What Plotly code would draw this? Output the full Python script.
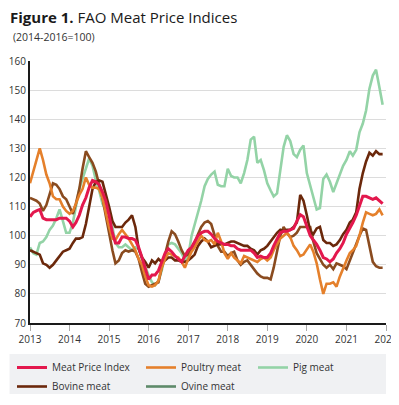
import pandas as pd
import plotly.graph_objects as go

dates = pd.date_range("2013-01-01", periods=108, freq="MS").strftime("%Y-%m-%d").tolist()

meat_index = [106.5, 108, 108.5, 109, 106, 105.5, 105.5, 105.5, 105.5, 106, 106, 106,
              105, 103, 104.5, 107, 110.5, 113, 116.5, 119, 118.5, 117.5, 115, 112,
              107, 101, 97.5, 97.5, 99.5, 99.5, 99, 99, 98.5, 96, 92.5, 89,
              85, 86.5, 86.5, 88, 91, 94, 95.5, 94.5, 93, 92, 91, 93,
              95, 96, 98, 100, 101, 101.5, 101.5, 100.5, 99, 98, 97.5, 97,
              97, 96.5, 96.5, 95.5, 95, 95, 95, 95, 94, 92.5, 93, 92.5,
              92.5, 94, 96.5, 99, 101, 101.5, 101.5, 102, 102.5, 105, 107.2, 106.5,
              103, 100, 98.5, 97, 95, 92.5, 92, 91, 92, 94, 95.5, 97.5,
              100.5, 102.5, 104.5, 107, 110, 113.5, 113.5, 113, 112.5, 113, 112, 111]

poultry = [118, 122, 126, 130, 126, 121, 118, 113.5, 112.5, 112.5, 110, 108.5,
           107.5, 108.5, 111, 114, 116, 120, 117.5, 116.5, 116.5, 116, 113, 108,
           103, 99, 98.5, 100.5, 102, 100.5, 99, 97, 95, 92, 90, 86,
           83, 82.5, 83, 84.5, 89, 92, 94, 93.5, 93, 92.5, 91, 89,
           92, 94.5, 96, 98, 100, 98.5, 98, 98.5, 97, 101, 98, 94,
           92, 94, 92.5, 91.5, 90.5, 93, 92.5, 92, 91.5, 91, 92, 92.5,
           91.5, 92.5, 95, 97, 99, 100, 101, 99.5, 96.5, 95, 93, 93.5,
           95.5, 97, 94.5, 90.5, 85, 80, 83.5, 83.5, 84, 82.5, 86, 89,
           91.5, 94, 95, 96.5, 100, 104.5, 108, 107.5, 107, 107.5, 109, 107]

pig = [96, 94, 93.5, 97.5, 98, 99.5, 102, 103.5, 106, 109, 105, 101,
       101, 104.5, 110, 116, 119.5, 123, 126.5, 124, 119, 115.5, 111, 108.5,
       107.5, 103, 97.5, 96, 96, 97, 96, 95, 96, 95.5, 92, 89,
       86.5, 84, 83, 84.5, 88, 93, 97, 97.5, 97, 95.5, 94, 91.5,
       93, 100, 103.5, 108, 112, 117, 119.5, 121, 122, 117.5, 117, 117,
       123, 120.5, 120, 120, 118, 121.5, 126, 133, 134, 125, 126, 122.5,
       118, 115.5, 113.5, 114.5, 122.5, 130.5, 134.5, 132.5, 128, 127, 129.5, 131,
       121.5, 117, 112.5, 109, 109.5, 119.5, 121, 118.5, 115, 118, 121, 124,
       126, 129, 127.5, 129.5, 135.5, 138.5, 143, 150.5, 155, 157, 151, 145]

bovine = [95, 94.5, 94, 93.5, 90.5, 90, 89, 90, 91.5, 93, 94.5, 95,
          95.5, 97.5, 99, 99, 99.5, 104, 110, 116, 118.5, 119, 118.5, 114.5,
          110, 105, 103, 103, 103, 104.5, 105.5, 107, 103, 95.5, 92.5, 91,
          89, 91.5, 90.5, 92, 91, 91.5, 92.5, 92.5, 91.5, 91.5, 91, 91,
          91.5, 92.5, 93.5, 96.5, 98, 99, 98, 96, 96.5, 97, 97, 97,
          97.5, 98, 98, 97.5, 97, 96.5, 96.5, 95.5, 95, 93.5, 95, 95.5,
          96.5, 98, 99.5, 101, 102, 101.5, 102, 102, 103, 104.5, 114, 112,
          107, 101.5, 100.5, 102.5, 103, 98.5, 97.5, 97.5, 96.5, 97, 98.5, 100.5,
          102, 104.5, 105.5, 108, 116, 121.5, 125.5, 128.5, 127.5, 129, 128, 128]

ovine = [113, 112.5, 112, 111, 108.5, 110.5, 114, 118, 117.5, 116, 113.5, 112.5,
         110, 107.5, 111, 116, 123, 129, 127, 125, 122, 118, 113, 107,
         100.5, 95, 90.5, 91.5, 94, 95, 94.5, 95, 94.5, 92, 87.5, 83.5,
         82.5, 83, 83.5, 84, 89, 94, 98, 101.5, 100.5, 98, 95, 93,
         93.5, 95.5, 97.5, 100.5, 103, 104.5, 105, 104, 100, 96.5, 94.5, 94.5,
         93, 94, 94.5, 91.5, 90, 91, 91.5, 90, 88.5, 87, 86, 85.5,
         85.5, 85, 89, 95, 100, 103, 101, 99.5, 100, 101, 103, 103,
         103, 103, 98, 94, 92, 90, 89, 90, 88.5, 90.5, 90, 89.5,
         88.5, 91.5, 94.5, 97, 100, 102.5, 102, 96.5, 91, 89.5, 89, 89]

year_ticks = ["2013", "2014", "2015", "2016", "2017", "2018", "2019", "2020", "2021", "2022"]
y_ticks = [70, 80, 90, 100, 110, 120, 130, 140, 150, 160]

C_MPI = "#E3184D"
C_POULTRY = "#E5802B"
C_PIG = "#93D3A6"
C_BOVINE = "#6B280B"
C_OVINE_LINE = "#8A4B1F"
C_OVINE_LEG = "#5D8A69"

FONT = "Open Sans"
fig = go.Figure()

fig.add_trace(go.Scatter(x=dates, y=pig, name="Pig meat", mode="lines",
                         line=dict(color=C_PIG, width=2.6), legend="legend3"))
fig.add_trace(go.Scatter(x=dates, y=ovine, name="Ovine meat", mode="lines",
                         line=dict(color=C_OVINE_LINE, width=2.6), showlegend=False))
fig.add_trace(go.Scatter(x=dates, y=bovine, name="Bovine meat", mode="lines",
                         line=dict(color=C_BOVINE, width=2.6), legend="legend",
                         legendrank=2))
fig.add_trace(go.Scatter(x=dates, y=poultry, name="Poultry meat", mode="lines",
                         line=dict(color=C_POULTRY, width=2.6), legend="legend2",
                         legendrank=1))
fig.add_trace(go.Scatter(x=dates, y=meat_index, name="Meat Price Index", mode="lines",
                         line=dict(color=C_MPI, width=3), legend="legend",
                         legendrank=1))
# legend swatch for ovine (legend colour in the original differs from its line)
fig.add_trace(go.Scatter(x=[None], y=[None], name="Ovine meat", mode="lines",
                         line=dict(color=C_OVINE_LEG, width=2.6), legend="legend2",
                         legendrank=2))

# page body has an 8px margin: work in figure coords = reference coords - 8
OFF = 8
W, H = 399 - OFF, 405 - 2 * OFF
L, T = 29.5 - OFF, 61 - OFF
R = W - (386 - OFF)
B = H - (323 - OFF)
PW, PH = W - L - R, H - T - B


def px_x(xr):
    return (xr - OFF - L) / PW


def px_y(yr):
    return (H - B - (yr - OFF)) / PH


leg_common = dict(orientation="v", bgcolor="rgba(0,0,0,0)", borderwidth=0,
                  font=dict(family=FONT, size=10, color="#333333"),
                  xref="container", yref="container", xanchor="left", yanchor="top",
                  tracegroupgap=0, traceorder="normal")
y_leg = 1 - (353 - OFF) / H

fig.update_layout(
    width=W, height=H,
    margin=dict(l=L, r=R, t=T, b=B, autoexpand=False),
    paper_bgcolor="white", plot_bgcolor="white",
    font=dict(family=FONT, size=10, color="#333333"),
    title=dict(text="<b>Figure 1.</b> FAO Meat Price Indices",
               font=dict(family=FONT, size=15, color="#1a1a1a"),
               x=2 / W, xref="container", xanchor="left",
               y=1, yref="container", yanchor="top", pad=dict(t=4, l=0)),
    legend=dict(x=(12 - OFF) / W, y=y_leg, **leg_common),
    legend2=dict(x=(141 - OFF) / W, y=y_leg, **leg_common),
    legend3=dict(x=(253 - OFF) / W, y=y_leg, **leg_common),
    xaxis=dict(type="date", range=["2013-01-01", "2022-01-01"],
               tickvals=[f"{y}-01-01" for y in year_ticks],
               ticktext=year_ticks,
               showgrid=False, showline=True, linecolor="#1a1a1a", linewidth=2,
               ticks="outside", ticklen=6, tickcolor="#aaaaaa", tickwidth=1,
               tickfont=dict(family=FONT, size=10, color="#333333"),
               zeroline=False, fixedrange=True),
    yaxis=dict(range=[70, 160], tickvals=y_ticks,
               showgrid=True, gridcolor="#dcdcdc", gridwidth=1,
               showline=True, linecolor="#1a1a1a", linewidth=2,
               ticks="", ticklabelstandoff=0,
               tickfont=dict(family=FONT, size=10, color="#333333"),
               zeroline=False, fixedrange=True),
    annotations=[dict(text="(2014-2016=100)", xref="paper", yref="paper",
                      x=(2 - L) / PW, y=px_y(37),
                      showarrow=False, xanchor="left", yanchor="middle",
                      font=dict(family=FONT, size=10.5, color="#333333"))],
    shapes=[dict(type="rect", xref="paper", yref="paper",
                 x0=px_x(9), x1=px_x(386),
                 y0=px_y(394), y1=px_y(354),
                 fillcolor="#F0F1F3", line=dict(width=0), layer="below")],
    showlegend=True,
)

fig.write_html("out.html")
